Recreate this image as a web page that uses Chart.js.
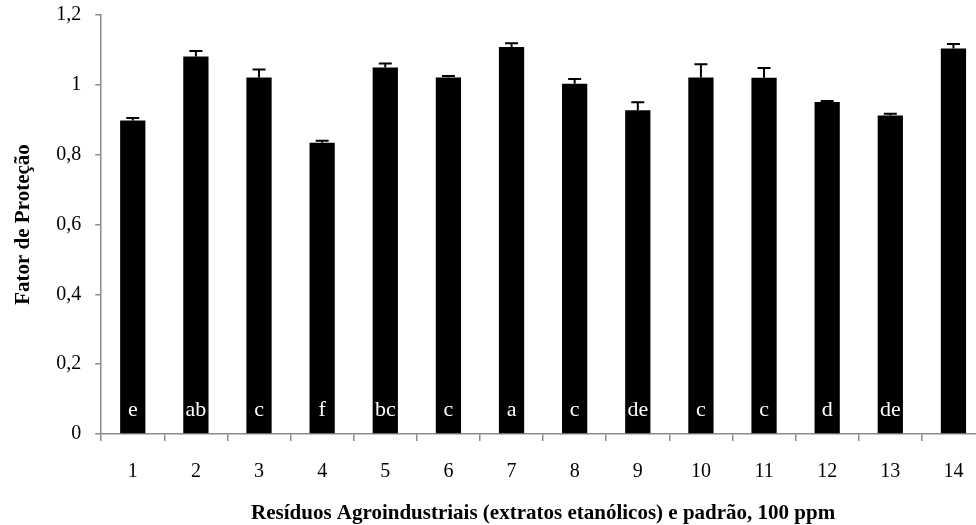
<!DOCTYPE html>
<html>
<head>
<meta charset="utf-8">
<script src="https://cdn.jsdelivr.net/npm/chart.js@4/dist/chart.umd.min.js"></script>
<style>
  html, body { margin: 0; padding: 0; background: #fff; overflow: hidden; }
  #wrap { width: 985px; height: 535px; margin-top: -11px; }
</style>
</head>
<body>
<div id="wrap"><canvas id="fatorChart"></canvas></div>
<script>
const categories = ['1', '2', '3', '4', '5', '6', '7', '8', '9', '10', '11', '12', '13', '14'];
const fatorValues = [0.898, 1.081, 1.021, 0.834, 1.050, 1.021, 1.108, 1.003, 0.927, 1.021, 1.020, 0.951, 0.912, 1.104];
const fatorErrors = [0.007, 0.016, 0.023, 0.006, 0.011, 0.004, 0.011, 0.014, 0.023, 0.038, 0.028, 0.003, 0.005, 0.013];
const letters = ['e', 'ab', 'c', 'f', 'bc', 'c', 'a', 'c', 'de', 'c', 'c', 'd', 'de', ''];
const yTicks = [0, 0.2, 0.4, 0.6, 0.8, 1, 1.2];

const serif = '"Liberation Serif", "Times New Roman", serif';
const axisGray = '#8c8c8c';

// barras de erro (só para cima) e letras de significância
const errorBarsPlugin = {
    id: 'errorBars',
    afterDatasetsDraw(chart) {
        const ctx = chart.ctx;
        const meta = chart.getDatasetMeta(0);
        const yScale = chart.scales.y;
        ctx.save();
        ctx.strokeStyle = '#000';
        ctx.lineWidth = 2;
        meta.data.forEach((bar, i) => {
            const top = yScale.getPixelForValue(fatorValues[i]);
            const tip = yScale.getPixelForValue(fatorValues[i] + fatorErrors[i]);
            ctx.beginPath();
            ctx.moveTo(bar.x, top);
            ctx.lineTo(bar.x, tip);
            ctx.moveTo(bar.x - 6.5, tip);
            ctx.lineTo(bar.x + 6.5, tip);
            ctx.stroke();
        });
        ctx.fillStyle = '#fff';
        ctx.font = '22px ' + serif;
        ctx.textAlign = 'center';
        ctx.textBaseline = 'middle';
        meta.data.forEach((bar, i) => {
            if (letters[i]) {
                ctx.fillText(letters[i], bar.x, yScale.getPixelForValue(0) - 24);
            }
        });
        ctx.restore();
    }
};

const ctx = document.getElementById('fatorChart').getContext('2d');
new Chart(ctx, {
    type: 'bar',
    data: {
        labels: categories,
        datasets: [{
            data: fatorValues,
            backgroundColor: '#000',
            borderWidth: 0,
            barPercentage: 0.4,
            categoryPercentage: 1
        }]
    },
    options: {
        responsive: true,
        maintainAspectRatio: false,
        animation: false,
        layout: { padding: { top: 0, left: 11, right: 0, bottom: 0 } },
        plugins: {
            legend: { display: false },
            tooltip: { enabled: false }
        },
        scales: {
            x: {
                grid: {
                    display: true,
                    drawOnChartArea: false,
                    offset: true,
                    tickLength: 7,
                    color: axisGray,
                    lineWidth: 1.5
                },
                border: { color: axisGray, width: 1.5 },
                ticks: {
                    color: '#000',
                    font: { family: serif, size: 20 },
                    padding: 19,
                    maxRotation: 0
                },
                title: {
                    display: true,
                    text: 'Resíduos Agroindustriais (extratos etanólicos) e padrão, 100 ppm',
                    color: '#000',
                    font: { family: serif, size: 21, weight: 'bold', lineHeight: 1 },
                    padding: { top: 0, bottom: 0 }
                }
            },
            y: {
                min: 0,
                max: 1.2,
                afterBuildTicks(scale) {
                    scale.ticks = yTicks.map(v => ({ value: v }));
                },
                grid: {
                    display: true,
                    drawOnChartArea: false,
                    tickLength: 6,
                    color: axisGray,
                    lineWidth: 1.5
                },
                border: { color: axisGray, width: 1.5 },
                ticks: {
                    color: '#000',
                    font: { family: serif, size: 20 },
                    padding: 14,
                    callback: v => String(Math.round(v * 10) / 10).replace('.', ',')
                },
                title: {
                    display: true,
                    text: 'Fator de Proteção',
                    color: '#000',
                    font: { family: serif, size: 21, weight: 'bold' },
                    padding: { top: 0, bottom: 6 }
                }
            }
        }
    },
    plugins: [errorBarsPlugin]
});
</script>
</body>
</html>
